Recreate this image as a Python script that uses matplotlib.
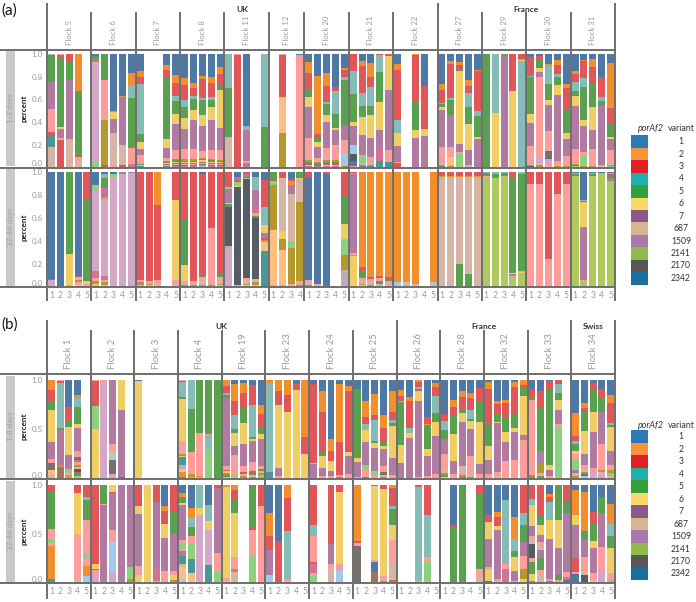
import re
import matplotlib
matplotlib.use("Agg")
import matplotlib.pyplot as plt
from matplotlib.lines import Line2D
from matplotlib.patches import Rectangle

plt.rcParams['font.family'] = ['Lato', 'DejaVu Sans']

W, H = 696, 602
GRAY = '#9a9a9a'
LINE = '#6e6e6e'

# colour codes used inside the bar strings (top -> bottom, value in %)
pal = {
    'B': '#4E79A7', 'O': '#F28E2B', 'R': '#E15759', 'T': '#86BCB6', 'E': '#499894',
    'G': '#59A14F', 'L': '#8CD17D', 'V': '#B0C95C', 'Y': '#F1CE63', 'W': '#B6992D',
    'P': '#B07AA1', 'Q': '#D4A6C8', 'K': '#FF9D9A', 'H': '#D37295', 'N': '#D7B5A6',
    'F': '#FFBE7D', 'C': '#A0CBE8', 'D': '#555C66', 'M': '#79706E', 'U': '#9D7660',
    'S': '#BAB0AC',
}

legend_variants = ['1', '2', '3', '4', '5', '6', '7', '687', '1509', '2141', '2170', '2342']
legend_colors = ['#2a7ab8', '#f7933b', '#e41f26', '#1fb0ab', '#31a03a', '#fdd867',
                 '#8a5a8a', '#d9b48f', '#a77aab', '#8fbb48', '#575757', '#196f9e']

# ---------------- panel (a) ----------------
a_flocks = ['Flock 5', 'Flock 6', 'Flock 7', 'Flock 8', 'Flock 11', 'Flock 12', 'Flock 20',
            'Flock 21', 'Flock 22', 'Flock 27', 'Flock 29', 'Flock 30', 'Flock 31']
a_nbars = [5, 5, 5, 5, 5, 4, 5, 5, 5, 5, 5, 5, 5]
a_countries = ['UK', 'France']
a_country_span = [9, 4]
a_rows = ['1-3 days', '32-46 days']

a_early = [
    ["S1 G24 P23 K21 R2 E11 N18", "K1 R2 G61 Y2 P8 K2 R24", "R6 G17 P52 K1 N24", "O33 G56 R2 K3 N6", ""],
    ["B2 G2 P3 K2 Q86 L5", "G23 K35 W40 R2", "B50 O1 Y6 P13 N28 K2", "B37 O1 P42 K1 N17 R2", "B17 O10 T12 G44 K14 H2 P1"],
    ["B15 O5 R6 T44 G7 Y6 P5 K7 NGYE1", "", "", "B10 O4 R7 G54 Y8 P9 K2 WGYRNE1", "B18 O7 R11 T4 G11 Y9 P22 K8 WGYRNEH1"],
    ["B21 O6 R13 T6 G10 Y9 P18 K9 WGYRNEH1", "B25 O4 R7 T3 G9 Y9 P25 K9 WGYRNEH1", "B19 O2 R16 T2 G13 Y9 P21 K6 WGYRNEHC1",
     "B20 O5 R12 T2 G6 Y11 P26 K8 WGYRNEH1", "B11 O7 R10 G4 Y33 P20 K8 WGYRNEH1"],
    ["T30 G43 N27", "K1 R99", "B63 T4 P27 K2 P4", "", "T64 G36"],
    ["", "K1 R37 F32 W30", "", "B1 K99"],
    ["B7 O9 R14 G6 Y9 P26 K18 NWGERYH1", "B20 O53 R3 G4 Y4 P10 K3 NWGERH1", "B16 O11 R13 T2 G9 Y6 P22 K9 NWGERYH1",
     "B28 R3 T20 G12 Y1 P13 K12 NWGERYH1", "B12 O2 R6 T3 G39 P13 K12 C10 NW1"],
    ["R15 T20 G25 Y3 P17 C8 D6 B5 K1", "B6 O4 R22 T11 G9 Y15 P17 L6 KNWE1", "B8 O12 R9 T16 G8 Y20 P17 K6 NWE1",
     "R1 T15 G26 Y25 P15 H12 E6", "R2 Y30 P53 K10 E5"],
    ["B9 O5 R44 T12 Y11 P14 K1 R4", "", "O1 R40 G26 Y7 P26", "B28 R38 Y6 P28", ""],
    ["B26 O5 R12 T1 G2 Y3 P32 K15 NWG1", "B6 O3 R29 T2 G13 P28 K9 F7 NW1", "B7 O3 R3 G2 Y65 P7 K2 L12",
     "B23 O5 R6 T12 G15 Y23 P13 KN1", "B14 O1 R35 T5 G18 Y2 P25"],
    ["G100", "T52 Y48", "G1 P99", "R33 Y67", "R4 O1 Y1 T94"],
    ["B3 R16 T1 G33 Y8 P20 K16 NWD1", "B2 R3 G7 Y4 P4 K72 Q4 NW2", "B8 O2 T14 G13 Y4 P21 K17 M6 Q5 K2",
     "B5 O5 R8 T2 G7 Y9 P58 K4 NW1", "B26 O4 R18 G22 Y5 P15 K8 NW1"],
    ["B15 O2 R7 T8 G4 Y9 P37 K12 NWGL1", "B5 O1 R15 T8 G29 Y5 P23 K3 L9 NW1", "B4 O7 R15 G21 Y20 P17 K14 NW1",
     "B20 R18 T3 G5 P52 KN1", "B8 O39 R14 G11 Y2 P10 K12 NWL1"],
]

a_late = [
    ["B93 G1 Q5 K1", "B99 W1", "G71 Y27 K1 N1", "B90 R1 N3 W2 K2 Y1 P1", "R24 G71 Y2 K2 R1"],
    ["B11 L5 Q70 H6 K3 W2 Y1 C1 P1", "B2 T3 G9 H4 P4 O1 Q67 H4 K2 W2 Y1 G1", "B2 L2 K1 Q93 K1 P1", "P2 Q98", "P1 Q99"],
    ["R94 K2 H1 W1 N1 Q1", "R95 K2 W1 N1 G1", "O29 R65 K3 N2 W1", "", "R24 Y70 K3 N2 W1"],
    ["R42 G39 Y14 K2 N1 W1 P1", "R95 K2 N1 W1 G1", "B2 R88 G1 K5 N2 W1 Y1", "R49 K48 N1 W1 Y1", "R89 G2 K4 N2 W1 Y1 P1"],
    ["R13 L2 P12 Y1 G2 D34 S2 Q32 K1 N1", "B4 P3 R2 L3 Y1 D85 N1 K1", "R2 P2 G1 L1 D86 K3 N2 W1 Y1 T1",
     "B4 T12 P13 H7 K2 G2 D53 N3 W2 Y1 T1", "B7 R23 T16 Y7 P4 R2 O2 F8 E31"],
    ["G7 R1 L3 W39 F48 K1 N1", "R5 N46 Y7 W10 F30 K1 G1", "B6 R2 O3 P8 N41 L6 W31 K1 N1 Y1", "G4 R1 Y1 N20 W69 K2 N1 P1 G1"],
    ["R5 B89 K2 N2 W1 G1", "B97 N2 K1", "R2 B97 N1", "", "R20 G25 Y13 K1 L13 W13 S14 N1"],
    ["R1 T1 P68 K2 O1 Y26 N1", "O83 R3 G6 K3 N2 W1 Y1 P1", "O91 R2 K3 N2 W1 G1", "O90 R2 K3 G2 N2 W1", "O91 R2 G2 K2 N2 W1"],
    ["O96 C2 N1 K1", "O96 C1 N2 K1", "O97 N2 K1", "", "O96 C1 N2 W1"],
    ["R3 O1 K1 L1 N94", "R3 O1 K1 N95", "R3 O1 K1 N75 G20", "R3 O1 K1 N84 G11", "R3 O1 K1 N95"],
    ["T1 G2 K1 V96", "T2 G3 V95", "T1 G2 V97", "R4 G84 Y1 P1 K1 V9", "T2 G84 K1 Y1 V12"],
    ["R10 K90", "R10 K90", "R76 K24", "R19 K81", "R10 K90"],
    ["B1 T1 G1 V97", "B24 T1 R1 Y22 P46 K1 V5", "B1 T1 G1 V97", "B1 T1 V98", "B1 T1 R1 G2 P3 V92"],
]

# ---------------- panel (b) ----------------
b_flocks = ['Flock 1', 'Flock 2', 'Flock 3', 'Flock 4', 'Flock 19', 'Flock 23', 'Flock 24',
            'Flock 25', 'Flock 26', 'Flock 28', 'Flock 32', 'Flock 33', 'Flock 34']
b_nbars = [5] * 13
b_countries = ['UK', 'France', 'Swiss']
b_country_span = [8, 4, 1]
b_rows = ['1-8 days', '32-46 days']

b_early = [
    ["O10 R11 G9 Y33 P17 K4 M7 F5 N4", "K1 R2 T46 G2 P36 O1 U12", "B27 R14 G7 Y28 P14 L4 K2 O3 N1",
     "B15 O3 T9 G17 Y5 P23 K6 M3 P2 K3 W2 N2 D3 R2 G2 L2 Y1", ""],
    ["K1 R25 L24 Y50", "K4 Q96", "P65 K8 Y1 C7 M14 Q4 N1", "Y30 P68 B2", ""],
    ["B1 Y99", "", "", "", ""],
    ["K1 R1 T15 G2 Y43 K10 N3 W2 Y1 E8 S4 F3 O5 G1 D1", "T29 G44 K22 W2 O2 N1", "G54 K43 O1 L2", "G55 K1 T14 L30", "G100"],
    ["O6 R7 T2 G3 P69 K4 R1 Y2 W2 G2 N2", "B4 O17 R14 T15 G4 Y13 P9 K20 L2 N2", "B3 O10 R15 G15 Y22 P22 K6 R2 N2 W2 Y1",
     "B5 R20 T33 G2 Y2 P21 K9 R2 G2 N2 W2", "B25 O9 R14 G7 Y5 P27 K3 G2 N2 W2 L2 O2"],
    ["O3 T90 E7", "O11 R14 Y64 P8 K3", "O15 R17 Y68", "B4 R6 Y90", "O58 R17 Y25"],
    ["B4 R80 K1 P15", "B11 O21 R40 G5 Y12 P8 K3", "B60 O12 R10 Y10 P5 K3", "B4 O59 R33 K2 P2", "B6 O5 R62 Y4 P18 K5"],
    ["B9 G70 Y4 P15 K2", "B21 O16 R7 T7 Y12 P23 L4 K6 N2 G2", "B14 O21 R5 T22 G2 Y5 P23 L4 K4",
     "B35 O14 R14 G4 Y3 P17 K6 M3 N2 W2", "B11 O21 R8 T3 G3 Y33 P17 K2 N2"],
    ["B10 O6 R5 T1 G44 Y18 P16", "B17 O4 R28 T5 Y5 P41", "O2 R5 T2 R2 Y10 P77 K2", "B37 R7 O1 G25 Y7 P20 K3",
     "B3 O4 R9 T17 G9 Y15 P38 K5"],
    ["B34 R7 T10 G9 P15 K15 N4 W2 G2 Y2", "B20 O7 R9 G19 Y27 P13 K3 N2", "B11 O6 R12 G4 Y9 P45 N5 K4 W2 G2",
     "B13 O5 R12 T9 G2 Y9 P27 K18 N3 W2", "B8 R14 G20 Y43 P10 K3 N2"],
    ["B2 O7 R34 G24 Y14 P14 K5", "B21 O3 R9 G9 Y1 P50 K4 N3", "B20 O3 R14 G16 Y10 P19 K18", "B2 O5 R27 G15 Y4 P28 K19",
     "O5 R2 G9 Y40 P5 K39"],
    ["B9 R8 G3 K76 W2 G1 N1", "B11 R16 G45 P12 W10 K3 G2 Y1", "B1 R8 G77 Y5 P6 K3", "R4 T9 G7 Y10 P14 K5 L51", ""],
    ["B32 O22 R5 T3 G7 Y3 K5 L10 P3 N3 W2 B1", "B23 O5 R3 G21 Y23 P11 K4 N3 W2 B2 C3", "B3 R6 G23 Y21 P36 K3 Q8",
     "B9 R8 G15 P33 K26 W2 N2 Q3 L2", "B15 O8 R20 T2 G3 Y24 P14 K5 W3 L3 N3"],
]

b_late = [
    ["R6 G39 K10 L4 K3 O34 E2 R2", "", "", "R8 Y42 K47 N2 W1", "R12 T3 G21 K33 L5 Q2 K7 O10 C7"],
    ["R81 Y5 G1 K4 Q9", "G19 K1 P78 W2", "Y7 R1 P38 K12 C31 Q11", "P100", "P84 L12 W4"],
    ["R22 Y8 P53 K9 Y8", "Y100", "R17 P67 H14 K2", "B22 O5 R13 Y14 P34 K12", "R27 G23 P38 K4 Y5 W3"],
    ["B8 O4 G6 Y3 P35 K3 L6 K2 P5 E9 N3 F12 C4", "B24 O10 T9 G9 K7 L17 E14 F10", "T24 Y7 Q69", "B20 T17 Y9 Q36 E18",
     "R3 P66 K19 L12"],
    ["O2 Y93 K3 N2", "O5 R10 G14 Y45 K12 W3 N11", "", "G43 R3 K26 L28", "R22 K78"],
    ["B29 O23 R14 P26 C8", "B57 R43", "O13 R34 T49 K2 N2", "", ""],
    ["R41 T11 K27 R2 H9 K3 L7", "", "R60 P21 K5 N14", "R7 Y74 K3 Q4 C12", ""],
    ["O57 R2 K3 M38", "", "R1 Y76 K2 B10 U11", "R4 Y89 K3 N2 W2", "O3 R19 T3 G16 Y15 K24 N17 R3"],
    ["", "", "R2 T96 K2", "R31 T43 K4 L20 K2", ""],
    ["", "B41 R2 G57", "B1 G99", "", "R8 G78 K8 N6"],
    ["B31 R7 Y17 P29 K2 Y12 B2", "B28 O5 R9 Y4 P50 K2 N2", "B15 T66 K5 H14", "B33 O22 T12 G7 Y14 P10 N2",
     "R29 T12 G17 P14 K14 W10 Y4"],
    ["R14 T7 Y21 P10 K3 N5 D15 K4 G12 Y7 P2", "R31 G10 Y10 P7 K4 N4 P9 G12 K4 N9", "B9 O3 R5 T19 Y19 P41 K2 G2",
     "G36 Y28 P28 G5 K3", "R17 G12 P60 K5 H3 B3"],
    ["B5 O26 Y10 P34 R14 K2 B8 N1", "B7 O40 G9 P17 K15 N4 D8", "B28 R12 G17 Y7 P26 K6 N2 Y2", "B12 G17 P34 K26 Q11",
     "B19 O21 T12 G12 Y26 K6 L4"],
]


def parse(s):
    segs = []
    for tok in s.split():
        m = re.fullmatch(r'([A-Z]+)(\d+)', tok)
        for ch in m.group(1):
            segs.append((ch, int(m.group(2))))
    return segs


def hline(fig, y, x0, x1):
    fig.add_artist(Line2D([x0 / W, x1 / W], [1 - y / H, 1 - y / H], color=LINE, lw=1.4))


def vline(fig, x, y0, y1):
    fig.add_artist(Line2D([x / W, x / W], [1 - y0 / H, 1 - y1 / H], color=LINE, lw=1.4))


def draw_panel(fig, tag, flocks, nbars, countries, spans, row_names, data, g):
    X0, X1 = 47, 615
    N = sum(nbars)
    slot = (X1 - X0) / N
    starts = [sum(nbars[:k]) for k in range(len(nbars) + 1)]
    labels = [str(i + 1) for nb in nbars for i in range(nb)]

    for r, (rt, rb) in enumerate(g['rows']):
        ax = fig.add_axes([X0 / W, 1 - rb / H, (X1 - X0) / W, (rb - rt) / H])
        xs, hs, bots, cols = [], [], [], []
        for fi, bars in enumerate(data[r]):
            for bi, s in enumerate(bars):
                segs = parse(s)
                if not segs:
                    continue
                tot = float(sum(v for _, v in segs))
                top = 1.0
                for c, v in segs:
                    h = v / tot
                    xs.append(starts[fi] + bi)
                    hs.append(h)
                    bots.append(top - h)
                    cols.append(pal[c])
                    top -= h
        ax.bar(xs, hs, bottom=bots, width=0.8, color=cols, linewidth=0)
        ax.set_xlim(-0.5, N - 0.5)
        ax.set_ylim(*g['ylim'])
        for sp in ax.spines.values():
            sp.set_visible(False)
        ax.set_yticks(g['yticks'])
        ax.set_yticklabels([f'{t:.1f}' for t in g['yticks']])
        ax.tick_params(length=0, labelsize=5.8, labelcolor=GRAY, pad=3)
        ax.get_yticklabels()[0].set_verticalalignment('bottom')
        if r == len(g['rows']) - 1:
            ax.set_xticks(range(N))
            ax.set_xticklabels(labels)
            ax.tick_params(axis='x', labelsize=6.2, pad=3)
        else:
            ax.set_xticks([])

        # row header band and axis title
        fig.add_artist(Rectangle((6 / W, 1 - (rb - 1.5) / H), 9 / W, (rb - rt - 3) / H,
                                 transform=fig.transFigure, color='#c9c9c9', lw=0))
        yc = 1 - (rt + rb) / 2 / H
        fig.text(10.8 / W, yc, row_names[r], rotation=90, ha='center', va='center',
                 fontsize=5.6, color='#a2a2a2')
        fig.text(23.5 / W, yc, 'percent', rotation=90, ha='center', va='center',
                 fontsize=5.8, fontweight='bold', color='#222222')

    # grid lines of the table
    hline(fig, g['head'], 0, X1)
    for rt, rb in g['rows']:
        hline(fig, rb, 0, X1)
    edges = [0]
    for s in spans:
        edges.append(edges[-1] + s)
    for k in range(len(nbars) + 1):
        x = X0 + starts[k] * slot
        y0 = g['top_out'] if k in edges else g['top_in']
        vline(fig, x, y0, g['lab'])

    # headers
    for ci, name in enumerate(countries):
        xa = X0 + starts[edges[ci]] * slot
        xb = X0 + starts[edges[ci + 1]] * slot
        fig.text((xa + xb) / 2 / W, 1 - g['country_y'] / H, name, ha='center', va='center',
                 fontsize=6, fontweight='bold', color='#333333')
    for k, name in enumerate(flocks):
        xc = X0 + (starts[k] + nbars[k] / 2) * slot
        fig.text(xc / W, 1 - g['flock_y'] / H, name, rotation=90, ha='center', va='bottom',
                 fontsize=g['flock_fs'], color=GRAY)
    fig.text(1 / W, 1 - g['tag_y'] / H, tag, ha='left', va='center', fontsize=11, color='#111111')


def draw_legend(fig, title_y, first_y, pitch):
    fig.text(664 / W, 1 - title_y / H, 'porAf2', style='italic', ha='right', va='center',
             fontsize=6.4, color='#333333')
    fig.text(667.5 / W, 1 - title_y / H, 'variant', ha='left', va='center',
             fontsize=6.4, color='#333333')
    for i, (v, c) in enumerate(zip(legend_variants, legend_colors)):
        yc = first_y + i * pitch
        fig.add_artist(Rectangle((630.5 / W, 1 - (yc + pitch / 2) / H), 17 / W, pitch / H,
                                 transform=fig.transFigure, color=c, lw=0))
        fig.text(681 / W, 1 - yc / H, v, ha='center', va='center', fontsize=6.2, color='#333333')


fig = plt.figure(figsize=(W / 100, H / 100), dpi=100)

geo_a = dict(rows=[(49.5, 167.5), (167.5, 287)], head=49.5, top_out=4, top_in=13, lab=300,
             country_y=10, flock_y=45, flock_fs=5.6, tag_y=11,
             yticks=[0, 0.2, 0.4, 0.6, 0.8, 1.0], ylim=(0, 1.04))
geo_b = dict(rows=[(374, 479), (479, 583)], head=374, top_out=321, top_in=331, lab=598,
             country_y=327, flock_y=369, flock_fs=6.8, tag_y=325,
             yticks=[0, 0.5, 1.0], ylim=(0, 1.06))

draw_panel(fig, '(a)', a_flocks, a_nbars, a_countries, a_country_span, a_rows, [a_early, a_late], geo_a)
draw_panel(fig, '(b)', b_flocks, b_nbars, b_countries, b_country_span, b_rows, [b_early, b_late], geo_b)
draw_legend(fig, 128, 141.7, 12.42)
draw_legend(fig, 425, 436.7, 12.48)

fig.savefig('out.png', dpi=100)
